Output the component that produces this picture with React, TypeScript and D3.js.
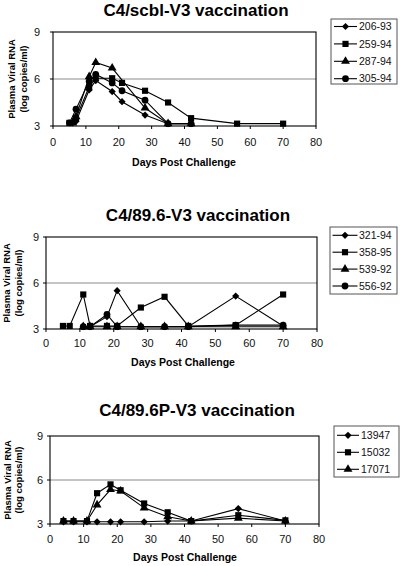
import React from 'react';
import * as d3 from 'd3';

const xTicks = [0, 10, 20, 30, 40, 50, 60, 70, 80];
const yTicks = [3, 6, 9];
const titles = ['C4/scbl-V3 vaccination', 'C4/89.6-V3 vaccination', 'C4/89.6P-V3 vaccination'];

// Panel 1 (C4/scbl-V3)
const p1Labels = ['206-93', '259-94', '287-94', '305-94'];
const p1Shapes = ['diamond', 'square', 'triangle', 'circle'];
const p1Days206 = [6, 7, 11, 13, 18, 21, 28, 35, 42];
const p1Vals206 = [3.2, 3.3, 5.3, 5.9, 5.2, 4.55, 3.7, 3.15, 3.15];
const p1Days259 = [5, 7, 11, 13, 18, 21, 28, 35, 42, 56, 70];
const p1Vals259 = [3.2, 3.5, 5.5, 6.05, 6.05, 5.75, 5.25, 4.5, 3.5, 3.15, 3.15];
const p1Days287 = [6, 7, 11, 13, 18, 28, 35, 42];
const p1Vals287 = [3.2, 3.6, 6.15, 7.05, 6.7, 4.15, 3.15, 3.15];
const p1Days305 = [5, 7, 11, 13, 18, 21, 28, 35, 42];
const p1Vals305 = [3.2, 4.07, 5.85, 6.3, 5.75, 5.25, 4.65, 3.15, 3.15];

// Panel 2 (C4/89.6-V3)
const p2Labels = ['321-94', '358-95', '539-92', '556-92'];
const p2Shapes = ['diamond', 'square', 'triangle', 'circle'];
const p2Days321 = [11, 13, 18, 21, 28, 35, 42, 56, 70];
const p2Vals321 = [3.15, 3.15, 3.8, 5.5, 3.15, 3.15, 3.15, 5.15, 3.2];
const p2Days358 = [5, 7, 11, 13, 18, 21, 28, 35, 42, 56, 70];
const p2Vals358 = [3.2, 3.2, 5.25, 3.2, 3.2, 3.2, 4.4, 5.1, 3.2, 3.25, 5.25];
const p2Days539 = [11, 13, 18, 21, 28, 35, 42, 56, 70];
const p2Vals539 = [3.15, 3.15, 3.15, 3.15, 3.15, 3.15, 3.15, 3.15, 3.15];
const p2Days556 = [11, 13, 18, 21, 28, 35, 42, 56, 70];
const p2Vals556 = [3.15, 3.15, 3.95, 3.15, 3.15, 3.15, 3.15, 3.25, 3.25];

// Panel 3 (C4/89.6P-V3)
const p3Labels = ['13947', '15032', '17071'];
const p3Shapes = ['diamond', 'square', 'triangle'];
const p3Days13947 = [4, 7, 11, 14, 18, 21, 28, 35, 42, 56, 70];
const p3Vals13947 = [3.15, 3.15, 3.15, 3.15, 3.15, 3.15, 3.15, 3.2, 3.2, 4.05, 3.2];
const p3Days15032 = [4, 7, 11, 14, 18, 21, 28, 35, 42, 56, 70];
const p3Vals15032 = [3.2, 3.2, 3.2, 5.1, 5.7, 5.3, 4.4, 3.8, 3.2, 3.6, 3.25];
const p3Days17071 = [4, 7, 11, 14, 18, 21, 28, 35, 42, 56, 70];
const p3Vals17071 = [3.2, 3.2, 3.2, 4.3, 5.35, 5.25, 4.1, 3.5, 3.2, 3.4, 3.2];

const zip = (d: number[], v: number[]) => d.map((x, i) => [x, v[i]] as [number, number]);

const panelsData = [
  {
    labels: p1Labels,
    shapes: p1Shapes,
    series: [zip(p1Days206, p1Vals206), zip(p1Days259, p1Vals259), zip(p1Days287, p1Vals287), zip(p1Days305, p1Vals305)],
  },
  {
    labels: p2Labels,
    shapes: p2Shapes,
    series: [zip(p2Days321, p2Vals321), zip(p2Days358, p2Vals358), zip(p2Days539, p2Vals539), zip(p2Days556, p2Vals556)],
  },
  {
    labels: p3Labels,
    shapes: p3Shapes,
    series: [zip(p3Days13947, p3Vals13947), zip(p3Days15032, p3Vals15032), zip(p3Days17071, p3Vals17071)],
  },
];

// layout (positions only)
const frames = [
  { left: 53, right: 316, top: 32, bottom: 126, titleX: 196, titleY: 16, tickY: 145.5, axTitleX: 184, axTitleY: 166, yTickX: 40, yl1: 12, yl2: 24,
    lg: { x: 331, y: 19, w: 66, h: 65, r0: 7.5, step: 17.4, lx: 3, lw: 23, tx: 28 } },
  { left: 46, right: 317, top: 237, bottom: 329, titleX: 198, titleY: 221, tickY: 347, axTitleX: 183, axTitleY: 365.5, yTickX: 39, yl1: 7, yl2: 19,
    lg: { x: 330, y: 227, w: 67, h: 67, r0: 8.3, step: 16.9, lx: 2.5, lw: 25, tx: 29 } },
  { left: 50, right: 319, top: 436, bottom: 524, titleX: 197, titleY: 416, tickY: 543, axTitleX: 185, axTitleY: 560.5, yTickX: 43, yl1: 7.5, yl2: 19,
    lg: { x: 334, y: 426, w: 65, h: 51, r0: 9.3, step: 17, lx: 3, lw: 22, tx: 27 } },
];

const FONT = "'Liberation Sans', Arial, Helvetica, sans-serif";

function markerPath(shape: string): string {
  if (shape === 'diamond') return 'M0,-3.6L3.6,0L0,3.6L-3.6,0Z';
  if (shape === 'square') return d3.symbol().type(d3.symbolSquare).size(38)() as string;
  if (shape === 'triangle') return d3.symbol().type(d3.symbolTriangle).size(34)() as string;
  return d3.symbol().type(d3.symbolCircle).size(36)() as string;
}

function Panel({ idx }: { idx: number }) {
  const f = frames[idx];
  const pd = panelsData[idx];
  const x = d3.scaleLinear().domain([0, 80]).range([f.left, f.right]);
  const y = d3.scaleLinear().domain([3, 9]).range([f.bottom, f.top]);
  const line = d3.line<[number, number]>().x((d) => x(d[0])).y((d) => y(d[1]));
  const midY = (f.top + f.bottom) / 2;
  return (
    <g>
      <text x={f.titleX} y={f.titleY} textAnchor="middle" fontFamily={FONT} fontWeight="bold" fontSize={17} fill="#000">
        {titles[idx]}
      </text>
      <line x1={f.left} x2={f.right} y1={y(6)} y2={y(6)} stroke="#8a8a8a" strokeWidth={1} />
      <rect x={f.left} y={f.top} width={f.right - f.left} height={f.bottom - f.top} fill="none" stroke="#000" strokeWidth={1.1} />
      {xTicks.map((t) => (
        <g key={'x' + t}>
          <line x1={x(t)} x2={x(t)} y1={f.bottom} y2={f.bottom + 3} stroke="#000" />
          <text x={x(t)} y={f.tickY} textAnchor="middle" fontFamily={FONT} fontSize={11} fill="#111">{t}</text>
        </g>
      ))}
      {yTicks.map((t) => (
        <g key={'y' + t}>
          <line x1={f.left - 3} x2={f.left} y1={y(t)} y2={y(t)} stroke="#000" />
          <text x={f.yTickX} y={y(t)} dy="0.35em" textAnchor="end" fontFamily={FONT} fontSize={11} fill="#111">{t}</text>
        </g>
      ))}
      <text x={f.axTitleX} y={f.axTitleY} textAnchor="middle" fontFamily={FONT} fontWeight="bold" fontSize={10.5} fill="#000">
        Days Post Challenge
      </text>
      <text transform={`translate(${f.yl1},${midY}) rotate(-90)`} dy="0.35em" textAnchor="middle" fontFamily={FONT} fontWeight="bold" fontSize={9.5} fill="#000">
        Plasma Viral RNA
      </text>
      <text transform={`translate(${f.yl2},${midY}) rotate(-90)`} dy="0.35em" textAnchor="middle" fontFamily={FONT} fontWeight="bold" fontSize={9.5} fill="#000">
        (log copies/ml)
      </text>
      {pd.series.map((s, i) => (
        <g key={'s' + i}>
          <path d={line(s) as string} fill="none" stroke="#000" strokeWidth={1.1} />
          {s.map((p, j) => (
            <path key={j} d={markerPath(pd.shapes[i])} transform={`translate(${x(p[0])},${y(p[1])})`} fill="#000" />
          ))}
        </g>
      ))}
      <rect x={f.lg.x} y={f.lg.y} width={f.lg.w} height={f.lg.h} fill="#fff" stroke="#555" strokeWidth={1} />
      {pd.labels.map((lab, i) => {
        const ry = f.lg.y + f.lg.r0 + i * f.lg.step;
        const lx0 = f.lg.x + f.lg.lx;
        return (
          <g key={'l' + i}>
            <line x1={lx0} x2={lx0 + f.lg.lw} y1={ry} y2={ry} stroke="#000" strokeWidth={1.1} />
            <path d={markerPath(pd.shapes[i])} transform={`translate(${lx0 + f.lg.lw / 2},${ry})`} fill="#000" />
            <text x={f.lg.x + f.lg.tx} y={ry} dy="0.36em" fontFamily={FONT} fontSize={10.5} fill="#111">{lab}</text>
          </g>
        );
      })}
    </g>
  );
}

export default function App() {
  return (
    <svg width={400} height={566} style={{ position: 'absolute', left: 0, top: 0, background: '#fff' }}>
      <rect x={0} y={0} width={400} height={566} fill="#fff" />
      {[0, 1, 2].map((i) => (
        <Panel key={i} idx={i} />
      ))}
    </svg>
  );
}
